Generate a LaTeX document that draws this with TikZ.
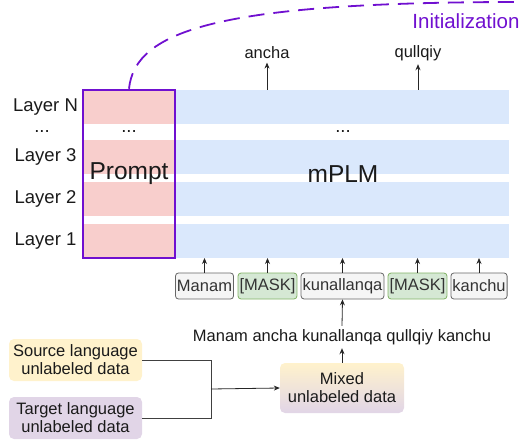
\documentclass[tikz,border=0pt]{standalone}
\usepackage{fontspec}
\setmainfont{Liberation Sans}
\usetikzlibrary{arrows.meta}
\definecolor{barblue}{HTML}{DAE8FC}
\definecolor{pinkfill}{HTML}{F8CECC}
\definecolor{violetc}{HTML}{7010D0}
\definecolor{tokfill}{HTML}{F5F5F5}
\definecolor{tokdraw}{HTML}{666666}
\definecolor{maskfill}{HTML}{D5E8D4}
\definecolor{maskdraw}{HTML}{82B366}
\definecolor{srcfill}{HTML}{FFF2CC}
\definecolor{tgtfill}{HTML}{E1D5E7}
\definecolor{txt}{HTML}{1A1A1A}
\tikzset{
  bar/.style={fill=barblue, draw=none, anchor=north west, inner sep=0, outer sep=0, minimum width=334pt, minimum height=34pt},
  pinkpart/.style={fill=pinkfill, draw=none, anchor=north west, inner sep=0, outer sep=0, minimum width=92pt, minimum height=34pt},
  layerlbl/.style={font=\fontsize{18.5}{20}\selectfont, text=txt},
  dotlbl/.style={layerlbl, inner sep=0pt, anchor=base},
  bigtxt/.style={font=\fontsize{24.5}{26}\selectfont, text=txt},
  smalltxt/.style={font=\fontsize{16.5}{18}\selectfont, text=txt},
  tok/.style={smalltxt, text=black!80, rounded corners=3pt, fill=tokfill, draw=tokdraw, line width=0.8pt, minimum height=26pt, inner xsep=1.5pt, inner ysep=0pt},
  masktok/.style={tok, fill=maskfill, draw=maskdraw},
  databox/.style={smalltxt, rounded corners=5pt, draw=none, minimum width=133pt, minimum height=42pt, align=center, inner sep=0pt},
  arr/.style={-{Stealth[length=6pt,width=5pt]}, line width=0.8pt, draw=black!85},
  conn/.style={line width=0.8pt, draw=black!75},
}
\begin{document}
\begin{tikzpicture}[x=1pt,y=-1pt]
\useasboundingbox (0,0) rectangle (521,443);
% layer bars
\node[bar] (barN) at (175,90) {};
\node[bar] (bar3) at (175,140) {};
\node[bar] (bar2) at (175,182) {};
\node[bar] (bar1) at (175,224) {};
\node[pinkpart] (pN) at (83,90) {};
\node[pinkpart] (p3) at (83,140) {};
\node[pinkpart] (p2) at (83,182) {};
\node[pinkpart] (p1) at (83,224) {};
% prompt box
\node[draw=violetc, line width=2.5pt, minimum width=92pt, minimum height=168pt, inner sep=0, bigtxt] (prompt) at (129,174) {Prompt};
\node[bigtxt] (mplm) at (343,174) {mPLM};
% layer labels
\node[layerlbl] (lN) at (45.5,107) {Layer N};
\node[dotlbl] (ldots) at (42,133) {...};
\node[layerlbl] (l3) at (45.5,157) {Layer 3};
\node[layerlbl] (l2) at (45.5,199) {Layer 2};
\node[layerlbl] (l1) at (45.5,241) {Layer 1};
\node[dotlbl] (pdots) at (129,133) {...};
\node[dotlbl] (mdots) at (343,133) {...};
% outputs
\node[smalltxt] (ancha) at (267,53) {ancha};
\node[smalltxt] (qullqiy) at (418,53) {qullqiy};
\draw[arr] (ancha |- barN.north) -- (ancha.south);
\draw[arr] (qullqiy |- barN.north) -- (qullqiy.south);
% initialization
\coordinate (initend) at (521,2);
\draw[violetc, line width=1.8pt, dash pattern=on 16pt off 9pt] (prompt.north) .. controls (135,30) and (220,2) .. (initend);
\node[font=\fontsize{20.5}{22}\selectfont, text=violetc] (init) at (466,21) {Initialization};
% tokens
\node[tok] (t1) at (204.5,286) {Manam};
\node[masktok] (t2) at (267.5,286) {[MASK]};
\node[tok] (t3) at (342.5,286) {kunallanqa};
\node[masktok] (t4) at (417.5,286) {[MASK]};
\node[tok] (t5) at (479,286) {kanchu};
\foreach \t in {t1,t2,t3,t4,t5} {
  \draw[arr] (\t.north) -- (\t.north |- bar1.south);
}
% sentence
\node[smalltxt] (sent) at (342,337) {Manam ancha kunallanqa qullqiy kanchu};
\draw[arr] (sent.north) -- (t3.south);
% data boxes
\node[databox, top color=srcfill, bottom color=tgtfill, minimum width=124pt, minimum height=50pt] (mixed) at (342,388) {Mixed\\unlabeled data};
\draw[arr] (mixed.north) -- (sent.south);
\node[databox, fill=srcfill] (src) at (75.5,360) {Source language\\unlabeled data};
\node[databox, fill=tgtfill] (tgt) at (75.5,418) {Target language\\unlabeled data};
\coordinate (j) at (211,389);
\draw[conn] (src.east) -| (j);
\draw[conn] (tgt.east) -| (j);
\draw[arr] (j) -- (mixed.west);
\end{tikzpicture}
\end{document}
